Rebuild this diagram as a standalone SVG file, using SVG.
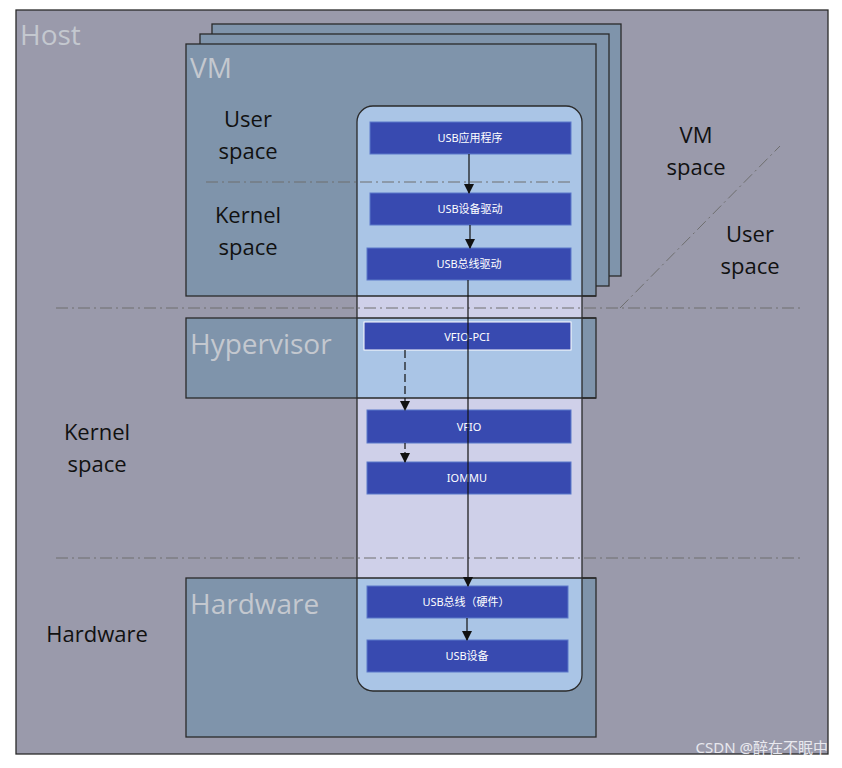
<svg xmlns="http://www.w3.org/2000/svg" width="842" height="768" viewBox="0 0 842 768">
<style>
.big{font-family:"Open Sans","Noto Sans",sans-serif;font-size:28px;fill:#c4c8cf}
.lab{font-family:"Open Sans","Noto Sans",sans-serif;font-size:22px;fill:#111;text-anchor:middle}
.nd{fill:#384ab0;stroke:#5b78c9;stroke-width:1}
.nw{stroke:#fff}
.nt{font-family:"Noto Sans","Noto Sans CJK SC",sans-serif;font-size:11px;fill:#fff;text-anchor:middle}
.box{fill:#7f94ab;stroke:#2a2a2a;stroke-width:1.3}
.dd{stroke:#6e6e6e;stroke-width:1;stroke-dasharray:12,4,2,4;fill:none}
.ar{stroke:#111;stroke-width:1.2;fill:none;marker-end:url(#m)}
</style>
<defs>
<marker id="m" markerWidth="10" markerHeight="10" refX="9" refY="5" orient="auto" markerUnits="userSpaceOnUse"><path d="M0,0L10,5L0,10z" fill="#111"/></marker>
<clipPath id="cc"><rect x="357" y="106" width="225" height="585" rx="16"/></clipPath>
</defs>
<rect width="842" height="768" fill="#fff"/>
<g id="host"><rect x="16" y="10" width="812" height="744" fill="#9a9aab" stroke="#2a2a2a" stroke-width="1.3"/><text class="big" x="20" y="45">Host</text></g>
<g id="vm">
<rect class="box" x="212" y="24" width="409" height="252"/>
<rect class="box" x="200" y="34" width="409" height="252"/>
<rect class="box" x="186" y="44" width="410" height="252"/>
<text class="big" x="190" y="78">VM</text>
</g>
<g id="hypervisor"><rect class="box" x="186" y="318" width="410" height="80"/></g>
<g id="hardware"><rect class="box" x="186" y="578" width="410" height="159"/></g>
<g id="container">
<rect x="357" y="106" width="225" height="585" rx="16" fill="#cfd0e9"/>
<g clip-path="url(#cc)" fill="#aac5e6">
<rect x="357" y="106" width="225" height="190"/>
<rect x="357" y="318" width="225" height="80"/>
<rect x="357" y="578" width="225" height="113"/>
</g>
<rect x="357" y="106" width="225" height="585" rx="16" fill="none" stroke="#2a2a2a" stroke-width="1.3"/>
<path d="M357 296H596M357 318H596M357 398H596M357 578H596" stroke="#2a2a2a" stroke-width="1.3"/>
</g>
<text class="big" x="190" y="354">Hypervisor</text>
<text class="big" x="190" y="614">Hardware</text>
<g id="dividers">
<path class="dd" d="M206 182H570M56 308H800M56 558H800M620 308L780 146"/>
</g>
<g id="labels">
<text class="lab" x="248" y="127">User</text><text class="lab" x="248" y="159">space</text>
<text class="lab" x="248" y="223">Kernel</text><text class="lab" x="248" y="255">space</text>
<text class="lab" x="696" y="143">VM</text><text class="lab" x="696" y="175">space</text>
<text class="lab" x="750" y="242">User</text><text class="lab" x="750" y="274">space</text>
<text class="lab" x="97" y="440">Kernel</text><text class="lab" x="97" y="472">space</text>
<text class="lab" x="97" y="642">Hardware</text>
</g>
<g id="n1"><rect class="nd" x="370" y="122" width="201" height="32"/><text class="nt" x="470" y="142">USB应用程序</text></g>
<g id="n2"><rect class="nd" x="370" y="193" width="201" height="32"/><text class="nt" x="470" y="213">USB设备驱动</text></g>
<g id="n3"><rect class="nd" x="367" y="248" width="204" height="32"/><text class="nt" x="469" y="268">USB总线驱动</text></g>
<g id="n4"><rect class="nd nw" x="364" y="322" width="207" height="28"/><text class="nt" x="467" y="341">VFIO-PCI</text></g>
<g id="n5"><rect class="nd" x="367" y="410" width="204" height="33"/><text class="nt" x="469" y="431">VFIO</text></g>
<g id="n6"><rect class="nd" x="367" y="462" width="204" height="32"/><text class="nt" x="467" y="482">IOMMU</text></g>
<g id="n7"><rect class="nd" x="367" y="586" width="201" height="32"/><text class="nt" x="466" y="606">USB总线（硬件）</text></g>
<g id="n8"><rect class="nd" x="367" y="640" width="201" height="32"/><text class="nt" x="467" y="660">USB设备</text></g>
<g id="connectors">
<path class="ar" d="M469 154V193"/>
<path class="ar" d="M470 225V248"/>
<path class="ar" d="M468 280V586"/>
<path class="ar" d="M405 350V410" stroke-dasharray="8,4"/>
<path class="ar" d="M405 443V462" stroke-dasharray="6,3,1,3"/>
<path class="ar" d="M467 618V640"/>
</g>
<text x="828" y="753" text-anchor="end" font-family="Noto Sans,Noto Sans CJK SC,sans-serif" font-size="15" fill="#e8e8ee">CSDN @醉在不眠中</text>
</svg>
